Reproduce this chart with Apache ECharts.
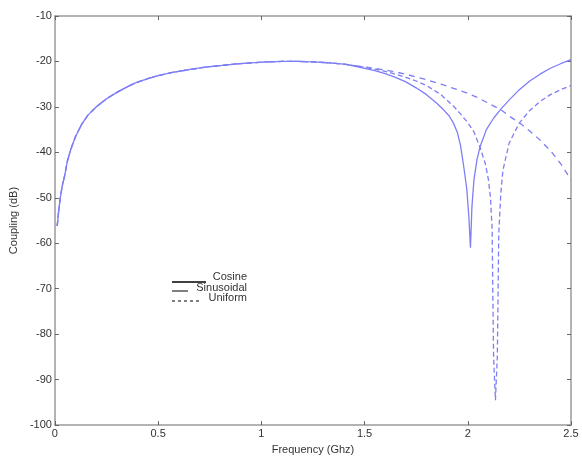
<!DOCTYPE html>
<html><head><meta charset="utf-8">
<script src="https://cdn.jsdelivr.net/npm/echarts@6/dist/echarts.min.js"></script>
<style>html,body{margin:0;padding:0;background:#fff}#c{width:582px;height:460px}</style>
</head><body><div id="c"></div>
<script>
// shared low/mid-frequency part (all three curves overlap)
const freqCommon = [0.011,0.018,0.026,0.035,0.047,0.06,0.077,0.1,0.13,0.16,0.2,0.25,0.3,0.35,0.39,0.45,0.5,0.57,0.65,0.72,0.8,0.88,0.95,1.03,1.1,1.18,1.25,1.33,1.4];
const dbCommon   = [-56.2,-53,-50,-47.5,-45.2,-42,-39.3,-36.5,-33.8,-31.8,-30,-28.2,-26.8,-25.6,-24.7,-23.8,-23.1,-22.4,-21.8,-21.3,-20.9,-20.55,-20.3,-20.1,-20.0,-20.0,-20.1,-20.3,-20.6];

const freqCosine = [1.45,1.5,1.55,1.6,1.65,1.7,1.75,1.8,1.85,1.88,1.91,1.93,1.95,1.965,1.98,1.995,2.005,2.013,2.02,2.03,2.045,2.06,2.09,2.125,2.16,2.2,2.25,2.3,2.35,2.4,2.45,2.5];
const dbCosine   = [-21.0,-21.5,-22.0,-22.7,-23.5,-24.5,-25.8,-27.3,-29.2,-30.5,-32,-33.5,-35.7,-38.5,-43,-48,-54,-61,-52,-46,-41.5,-38.7,-35,-32.5,-30.5,-28.5,-26.2,-24.3,-22.8,-21.5,-20.5,-19.6];

const freqSinus = [1.45,1.5,1.55,1.6,1.65,1.7,1.75,1.8,1.87,1.93,1.97,2.0,2.03,2.06,2.085,2.1,2.11,2.118,2.121,2.125,2.134,2.143,2.147,2.15,2.16,2.17,2.2,2.25,2.3,2.35,2.4,2.45,2.5];
const dbSinus   = [-20.9,-21.3,-21.7,-22.2,-22.8,-23.5,-24.3,-25.3,-27.3,-29.8,-31.8,-33.5,-35.5,-39,-42.5,-46,-50,-57,-70,-85,-94.5,-85,-70,-58,-49,-44,-38,-33.5,-30.8,-28.8,-27.3,-26.2,-25.3];

const freqUniform = [1.45,1.5,1.55,1.6,1.65,1.7,1.75,1.8,1.87,1.95,2.0,2.05,2.1,2.16,2.2,2.25,2.3,2.35,2.4,2.45,2.5];
const dbUniform   = [-20.9,-21.2,-21.5,-21.9,-22.3,-22.8,-23.4,-24,-25,-26.2,-27,-28,-29.2,-30.6,-32,-33.5,-35.3,-37.3,-39.6,-42.5,-46];

const xTicks = [0,0.5,1,1.5,2,2.5];
const yTicks = [-100,-90,-80,-70,-60,-50,-40,-30,-20,-10];
const legendNames = ['Cosine','Sinusoidal','Uniform'];

function pairs(fa, da){ return fa.map((f,i)=>[f, da[i]]); }
const cosData = pairs(freqCommon.concat(freqCosine), dbCommon.concat(dbCosine));
const sinData = pairs(freqCommon.concat(freqSinus), dbCommon.concat(dbSinus));
const uniData = pairs(freqCommon.concat(freqUniform), dbCommon.concat(dbUniform));

const lineCol = '#7e7ef6';
const axisCol = '#9a9a9a';
const txtCol = '#333';
const font = 'Liberation Sans, Arial, sans-serif';
const fs = 11;

const chart = echarts.init(document.getElementById('c'), null, {renderer:'canvas'});
const axCommon = {
  axisLine:{show:true, onZero:false, lineStyle:{color:axisCol, width:1.5}},
  axisTick:{show:true, inside:true, length:4, lineStyle:{color:'#666'}},
  splitLine:{show:false}
};
chart.setOption({
  animation:false,
  backgroundColor:'#fff',
  grid:{left:52, right:11, top:16, bottom:33},
  xAxis:[
    Object.assign({type:'value', min:0, max:2.5, interval:0.5, position:'bottom',
      name:'Frequency (Ghz)', nameLocation:'middle', nameGap:14,
      nameTextStyle:{fontSize:fs, color:txtCol, fontFamily:font},
      axisLabel:{fontSize:fs, color:txtCol, fontFamily:font, margin:3,
        formatter:v=>String(xTicks.find(t=>Math.abs(t-v)<1e-9) ?? v)}}, axCommon),
    Object.assign({type:'value', min:0, max:2.5, interval:0.5, position:'top',
      axisLabel:{show:false}}, axCommon)
  ],
  yAxis:[
    Object.assign({type:'value', min:-100, max:-10, interval:10, position:'left',
      name:'Coupling (dB)', nameLocation:'middle', nameGap:29, nameRotate:90,
      nameTextStyle:{fontSize:fs, color:txtCol, fontFamily:font},
      axisLabel:{fontSize:fs, color:txtCol, fontFamily:font, margin:3}}, axCommon),
    Object.assign({type:'value', min:-100, max:-10, interval:10, position:'right',
      axisLabel:{show:false}}, axCommon)
  ],
  series:[
    {name:legendNames[0], type:'line', data:cosData, showSymbol:false, symbol:'none',
      lineStyle:{color:lineCol, width:1.3, type:'solid'}},
    {name:legendNames[1], type:'line', data:sinData, showSymbol:false, symbol:'none',
      lineStyle:{color:lineCol, width:1.3, type:[5,3]}},
    {name:legendNames[2], type:'line', data:uniData, showSymbol:false, symbol:'none',
      lineStyle:{color:lineCol, width:1.3, type:[6,5]}}
  ],
  graphic:[
    {type:'line', shape:{x1:172,y1:282,x2:206,y2:282}, style:{stroke:'#000', lineWidth:1.3}},
    {type:'line', shape:{x1:172,y1:291,x2:188,y2:291}, style:{stroke:'#000', lineWidth:1}},
    {type:'line', shape:{x1:172,y1:301,x2:202,y2:301}, style:{stroke:'#000', lineWidth:1, lineDash:[3,3]}},
    {type:'text', right:582-247, top:271, style:{text:legendNames[0], fill:txtCol, font:fs+'px '+font, textAlign:'right'}},
    {type:'text', right:582-247, top:282, style:{text:legendNames[1], fill:txtCol, font:fs+'px '+font, textAlign:'right'}},
    {type:'text', right:582-247, top:292, style:{text:legendNames[2], fill:txtCol, font:fs+'px '+font, textAlign:'right'}}
  ]
});
</script></body></html>
